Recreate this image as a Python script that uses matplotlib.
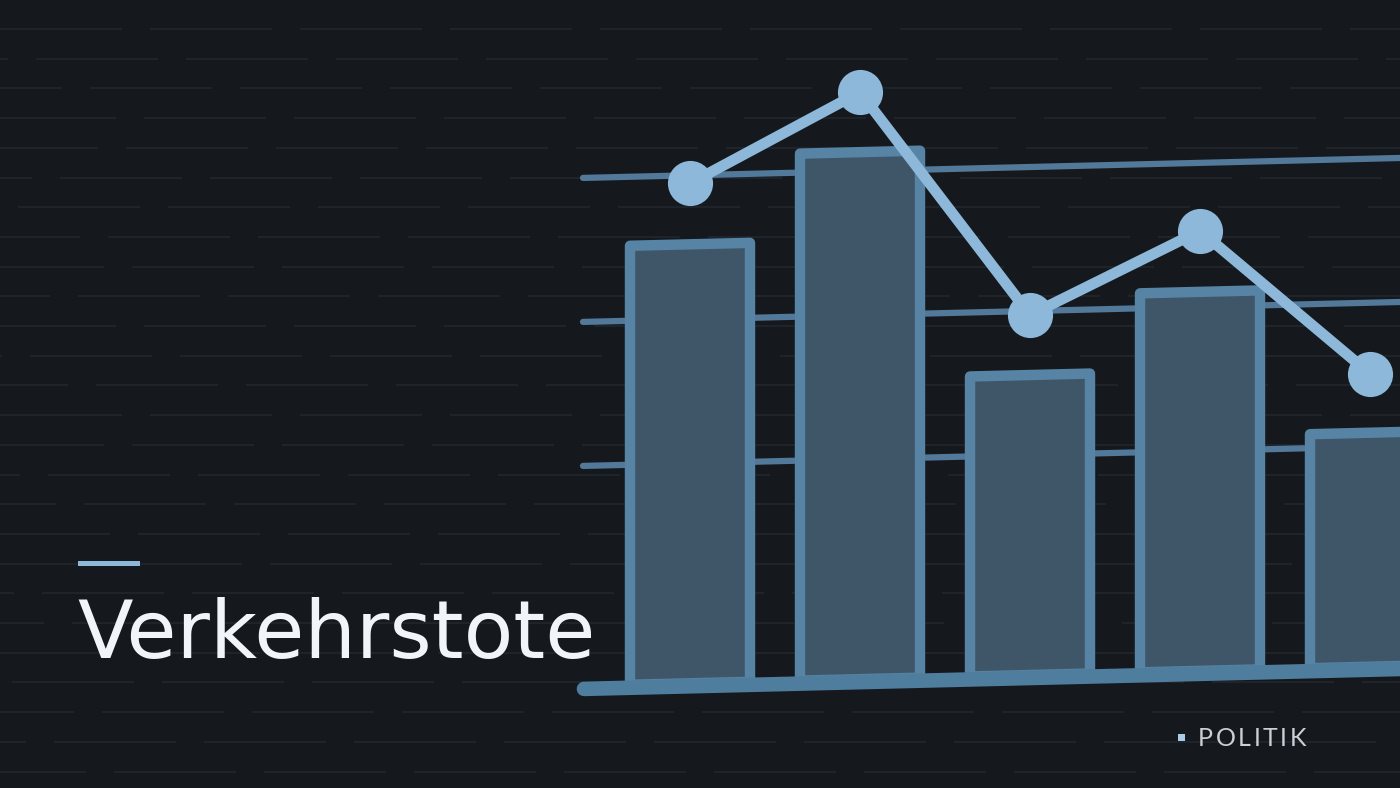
import numpy as np
import matplotlib
matplotlib.use("Agg")
import matplotlib.pyplot as plt
from matplotlib.transforms import Affine2D

# ---------------------------------------------------------------------------
# Data (arbitrary units)
# ---------------------------------------------------------------------------
categories = ["1", "2", "3", "4", "5"]
bar_values = [4.39, 5.27, 3.00, 3.79, 2.34]
line_values = [5.00, 5.87, 3.60, 4.40, 2.93]
grid_levels = [2.20, 3.64, 5.08]

title = "Verkehrstote"
tag = "POLITIK"

# colours
BG = "#15191d"
DASH = "#20272d"
BAR_FILL = "#3f5669"
BAR_EDGE = "#5784a4"
GRID = "#52789a"
BASE = "#4f7d9d"
LINE = "#8db8da"
TITLE_C = "#f1f4f8"
TAG_C = "#c9d0d7"

W, H, DPI = 1400, 788, 100
fig = plt.figure(figsize=(W / DPI, H / DPI), dpi=DPI, facecolor=BG)

# ---------------------------------------------------------------------------
# Background: faint dashed rows
# ---------------------------------------------------------------------------
bg = fig.add_axes([0, 0, 1, 1])
bg.set_xlim(0, W)
bg.set_ylim(H, 0)
bg.set_facecolor(BG)
bg.set_axis_off()
row_offsets = [0, 95, 50, 130, 20, 75, 110, 35, 140, 60, 5, 100, 45,
               125, 15, 85, 55, 135, 25, 90, 65, 10, 115, 40, 80, 30]
for i, off in enumerate(row_offsets):
    y = 29 + 29.7 * i
    bg.plot([0, W], [y, y], color=DASH, lw=1.2, solid_capstyle="butt",
            linestyle=(off * 0.72, (122 * 0.72 / 1.2, 28 * 0.72 / 1.2)))

# ---------------------------------------------------------------------------
# Chart, slightly tilted
# ---------------------------------------------------------------------------
ax = fig.add_axes([0, 0, 1, 1])
ax.patch.set_alpha(0)
ax.set_axis_off()
px_step = 170.0
x0_px = 690.0
ax.set_xlim((0 - x0_px) / px_step, (W - x0_px) / px_step)
ax.set_ylim(-1.047, (H - 104.7) / 100.0)

k = 20.0 / 820.0
tilt = (Affine2D().translate(-x0_px, 0).skew(0, np.arctan(k))
        .translate(x0_px, 0))
tr = ax.transData + tilt

x = np.arange(len(categories))

for g in grid_levels:
    ax.plot([(583 - x0_px) / px_step, 5], [g, g], color=GRID, lw=4.5,
            solid_capstyle="round", transform=tr, zorder=1)

bars = ax.bar(x, bar_values, width=120 / px_step, bottom=0, color=BAR_FILL,
              edgecolor=BAR_EDGE, linewidth=7.5, transform=tr, zorder=2)
for b in bars:
    b.set_joinstyle("round")

ax.plot([(584 - x0_px) / px_step, 5], [-0.03, -0.03], color=BASE, lw=10.5,
        solid_capstyle="round", transform=tr, zorder=3)

ax.plot(x, line_values, color=LINE, lw=7.8, marker="o", markersize=32.5,
        markerfacecolor=LINE, markeredgewidth=0, transform=tr, zorder=4,
        solid_joinstyle="round")

# ---------------------------------------------------------------------------
# Texts
# ---------------------------------------------------------------------------
fig.add_artist(plt.Rectangle((78 / W, 1 - 566 / H), 62 / W, 5 / H,
                             transform=fig.transFigure, color=LINE, lw=0))
fig.text(77 / W, 1 - 658 / H, title, color=TITLE_C, fontsize=58.5,
         family="DejaVu Sans", ha="left", va="baseline")

fig.add_artist(plt.Rectangle((1178 / W, 1 - 741 / H), 7 / W, 7 / H,
                             transform=fig.transFigure, color="#a8cce8", lw=0))

# tag drawn letter by letter to get the wide tracking
renderer = fig.canvas.get_renderer()
xpos = 1198.0
for ch in tag:
    t = fig.text(xpos / W, 1 - 746 / H, ch, color=TAG_C, fontsize=18,
                 family="Lato", ha="left", va="baseline")
    xpos += t.get_window_extent(renderer).width + 2.5

fig.savefig("out.png", dpi=DPI, facecolor=BG)
